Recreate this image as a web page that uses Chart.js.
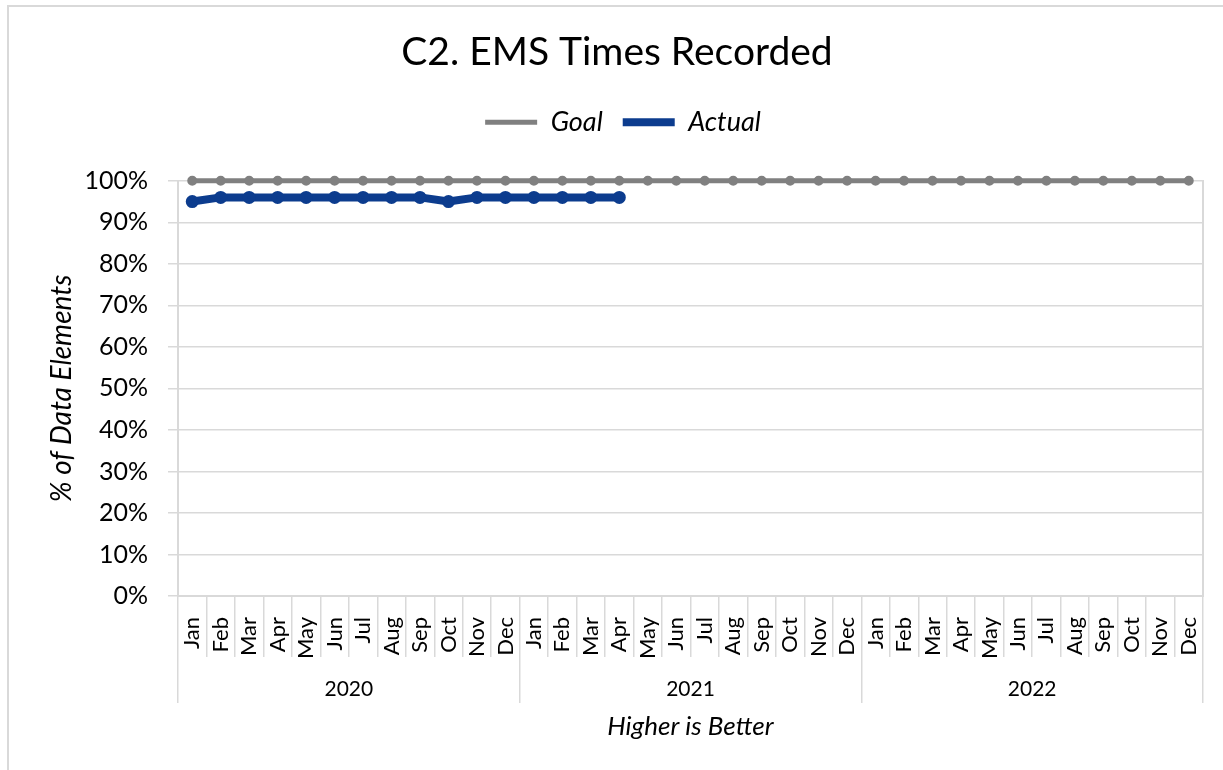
<!DOCTYPE html>
<html>
<head>
<meta charset="utf-8">
<script src="https://cdn.jsdelivr.net/npm/chart.js@4.4.1/dist/chart.umd.min.js"></script>
<style>
  body { margin: 0; background: #fff; }
  #frame { position: absolute; left: 7px; top: 5px; width: 1230px; height: 780px; border-left: 2px solid #d9d9d9; border-top: 2px solid #d9d9d9; }
  #wrap { position: absolute; left: 0; top: 0; width: 1223px; height: 770px; }
</style>
</head>
<body>
<div id="frame"></div>
<div id="wrap"><canvas id="lineChart" width="1223" height="770"></canvas></div>
<script>
var months = ["Jan", "Feb", "Mar", "Apr", "May", "Jun", "Jul", "Aug", "Sep", "Oct", "Nov", "Dec"];
var years = ["2020", "2021", "2022"];
var goal = [100, 100, 100, 100, 100, 100, 100, 100, 100, 100, 100, 100,
            100, 100, 100, 100, 100, 100, 100, 100, 100, 100, 100, 100,
            100, 100, 100, 100, 100, 100, 100, 100, 100, 100, 100, 100];
var actual = [95, 96, 96, 96, 96, 96, 96, 96, 96, 95, 96, 96,
              96, 96, 96, 96];
var yTicks = [0, 10, 20, 30, 40, 50, 60, 70, 80, 90, 100];

var FONT = "Lato, 'Liberation Sans', sans-serif";
var GRID = "#d9d9d9";

var labels = [];
years.forEach(function (y) {
    months.forEach(function (m) { labels.push(m); });
});

// year group ticks: boundaries and centres on a linear axis matching the category slots
var yearTicks = [];
years.forEach(function (y, i) {
    yearTicks.push({ value: i * 12 - 0.5 });
    yearTicks.push({ value: i * 12 + 5.5, label: y });
});
yearTicks.push({ value: years.length * 12 - 0.5 });

// extra room under the legend, and nudge title/legend over the plot centre
var legendGap = {
    id: "legendGap",
    afterInit: function (chart) {
        var fit = chart.legend.fit;
        chart.legend.fit = function () {
            fit.call(this);
            this.height += 35;
        };
    },
    afterLayout: function (chart) {
        chart.legend.left += 17;
        chart.legend.right += 17;
        if (chart.titleBlock) {
            chart.titleBlock.left += 11;
            chart.titleBlock.right += 11;
        }
    }
};

initializeChart();

function initializeChart() {
    var data = {
        labels: labels,
        datasets: [
            {
                label: "Goal",
                data: goal,
                borderColor: "#808080",
                backgroundColor: "#808080",
                pointBackgroundColor: "#808080",
                pointBorderColor: "#808080",
                borderWidth: 5,
                pointRadius: 2.5,
                borderCapStyle: "round",
                clip: false,
                xAxisID: "x"
            },
            {
                label: "Actual",
                data: actual,
                borderColor: "#0c3c8e",
                backgroundColor: "#0c3c8e",
                pointBackgroundColor: "#0c3c8e",
                pointBorderColor: "#0c3c8e",
                borderWidth: 8,
                pointRadius: 2.5,
                borderCapStyle: "round",
                borderJoinStyle: "round",
                clip: false,
                xAxisID: "x"
            }
        ]
    };

    var options = {
        responsive: false,
        animation: false,
        layout: { padding: { left: 9, right: 20, top: 0, bottom: 28 } },
        plugins: {
            title: {
                display: true,
                text: "C2. EMS Times Recorded",
                color: "#000",
                font: { family: FONT, size: 39, weight: "normal" },
                padding: { top: 29, bottom: 13 }
            },
            legend: {
                display: true,
                labels: {
                    usePointStyle: true,
                    pointStyle: "line",
                    pointStyleWidth: 52,
                    boxWidth: 52,
                    color: "#000",
                    padding: 20,
                    font: { family: FONT, size: 27, style: "italic" }
                }
            },
            tooltip: { enabled: false }
        },
        scales: {
            y: {
                min: 0,
                max: 100,
                afterBuildTicks: function (axis) {
                    axis.ticks = yTicks.map(function (v) { return { value: v }; });
                },
                afterFit: function (axis) { axis.width = 169; },
                ticks: {
                    color: "#000",
                    padding: 20,
                    font: { family: FONT, size: 25 },
                    callback: function (v) { return v + "%"; }
                },
                grid: { color: GRID, lineWidth: 1.5, tickLength: 10 },
                border: { color: GRID, width: 2 },
                title: {
                    display: true,
                    text: "% of Data Elements",
                    color: "#000",
                    font: { family: FONT, size: 28, style: "italic" },
                    padding: { top: 36, bottom: 0 }
                }
            },
            yRight: {
                position: "right",
                min: 0,
                max: 100,
                afterFit: function (axis) { axis.width = 0; },
                ticks: { display: false },
                grid: { drawOnChartArea: false, drawTicks: false },
                border: { color: GRID, width: 2 }
            },
            x: {
                type: "category",
                position: "bottom",
                offset: true,
                afterFit: function (axis) { axis.height = 61; },
                ticks: {
                    autoSkip: false,
                    minRotation: 90,
                    maxRotation: 90,
                    padding: -40,
                    color: "#000",
                    font: { family: FONT, size: 22 }
                },
                grid: { offset: true, drawOnChartArea: false, color: GRID, lineWidth: 1.5, tickLength: 61 },
                border: { color: GRID, width: 2 }
            },
            x2: {
                type: "linear",
                position: "bottom",
                min: -0.5,
                max: years.length * 12 - 0.5,
                afterBuildTicks: function (axis) {
                    axis.ticks = yearTicks.map(function (t) { return { value: t.value }; });
                },
                afterFit: function (axis) { axis.height = 85; },
                ticks: {
                    autoSkip: false,
                    maxRotation: 0,
                    padding: -26,
                    color: "#000",
                    font: { family: FONT, size: 21 },
                    callback: function (v) {
                        var t = yearTicks.find(function (k) { return k.value === v; });
                        return t && t.label ? t.label : "";
                    }
                },
                grid: {
                    drawOnChartArea: false,
                    lineWidth: 1.5,
                    tickLength: 46,
                    color: function (c) {
                        var t = yearTicks[c.index];
                        return t && t.label ? "rgba(0,0,0,0)" : GRID;
                    }
                },
                border: { display: false },
                title: {
                    display: true,
                    text: "Higher is Better",
                    color: "#000",
                    font: { family: FONT, size: 26, style: "italic" },
                    padding: { top: 0, bottom: 0 }
                }
            }
        }
    };

    var ctx = document.getElementById("lineChart").getContext("2d");
    new Chart(ctx, { type: "line", data: data, options: options, plugins: [legendGap] });
}
</script>
</body>
</html>
